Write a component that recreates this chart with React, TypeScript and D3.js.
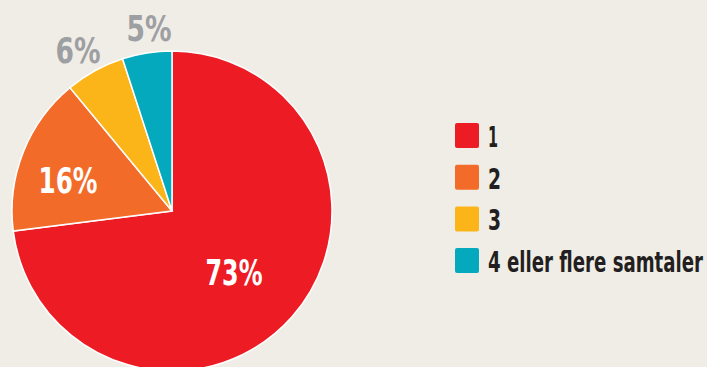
import React from "react";
import * as d3 from "d3";

const categories = ["1", "2", "3", "4 eller flere samtaler"];
const values = [73, 16, 6, 5];
const labels = ["73%", "16%", "6%", "5%"];
const colors = ["#ed1c24", "#f36b29", "#fbb519", "#04a9bd"];

const W = 707;
const H = 367;
const FONT = "'DejaVu Sans Condensed', 'DejaVu Sans', sans-serif";

const labelWidths = [57, 59, 45, 45];
const legendWidths = [10, 13, 13, 215];

export default function App() {
  const cx = 172;
  const cy = 211;
  const r = 160;
  const pie = d3.pie<number>().sort(null).value((d) => d);
  const arcs = pie(values);
  const arc = d3.arc<d3.PieArcDatum<number>>().innerRadius(0).outerRadius(r);
  const labelColor = ["#ffffff", "#ffffff", "#9d9fa2", "#9d9fa2"];
  const labelPos: [number, number][] = [
    [62, 74],
    [-104, -18],
    [-94, -148],
    [-23, -170],
  ];

  const legendX = 455;
  const legendY0 = 123;
  const legendStep = 41.7;

  return (
    <svg width={W} height={H} style={{ position: "absolute", left: 0, top: 0, display: "block" }}>
      <rect x={0} y={0} width={W} height={H} fill="#f0ede7" />
      <g transform={`translate(${cx},${cy})`}>
        {arcs.map((a, i) => (
          <path key={i} d={arc(a) || ""} fill={colors[i]} stroke="#ffffff" strokeWidth={1.5} />
        ))}
        {arcs.map((a, i) => (
          <text
            key={i}
            x={labelPos[i][0]}
            y={labelPos[i][1]}
            textAnchor="middle"
            fontFamily={FONT}
            fontWeight="bold"
            fontStretch="condensed"
            fontSize={35}
            fill={labelColor[i]}
            textLength={labelWidths[i]}
            lengthAdjust="spacingAndGlyphs"
          >
            {labels[i]}
          </text>
        ))}
      </g>
      <g>
        {categories.map((c, i) => (
          <g key={c} transform={`translate(${legendX},${legendY0 + i * legendStep})`}>
            <rect x={0} y={0} width={24} height={25} rx={2} fill={colors[i]} />
            <text
              x={33}
              y={24}
              fontFamily={FONT}
              fontWeight="bold"
              fontStretch="condensed"
              fontSize={29}
              fill="#231f20"
              textLength={legendWidths[i]}
              lengthAdjust="spacingAndGlyphs"
            >
              {c}
            </text>
          </g>
        ))}
      </g>
    </svg>
  );
}
